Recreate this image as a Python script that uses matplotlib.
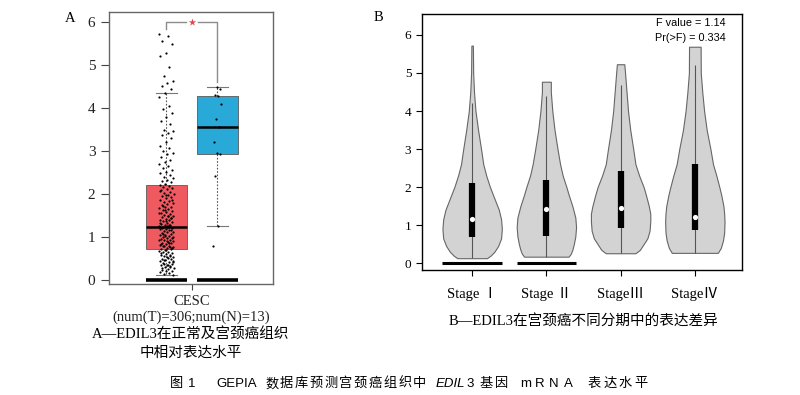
import numpy as np
import matplotlib
matplotlib.use("Agg")
import matplotlib.pyplot as plt

# ---- data ----
# panel A: box stats (tumor / normal) + points
groups = ["Tumor", "Normal"]
box_q1 = [0.72, 2.93]
box_med = [1.24, 3.57]
box_q3 = [2.20, 4.27]
whis_lo = [0.12, 1.26]
whis_hi = [4.35, 4.50]
box_colors = ["#EF5A60", "#28A9D7"]

tumor_pts = [
    5.72, 5.68, 5.55, 5.50, 5.27, 5.20, 4.95, 4.75, 4.63, 4.58, 4.52, 4.45,
    4.36, 4.25, 4.05, 3.98, 3.88, 3.80, 3.70, 3.62, 3.50, 3.47, 3.42, 3.37,
    3.30, 3.22, 3.12, 3.07, 3.01, 2.96, 2.92, 2.86, 2.80, 2.74, 2.70, 2.66,
    2.61, 2.57, 2.52, 2.48, 2.44, 2.40, 2.37, 2.33, 2.30, 2.27, 2.24, 2.22,
    2.19, 2.17, 2.14, 2.12, 2.09, 2.05, 2.03, 2.00, 1.97, 1.95, 1.92, 1.90,
    1.87, 1.84, 1.81, 1.79, 1.76, 1.74, 1.71, 1.69, 1.67, 1.65, 1.63, 1.61,
    1.58, 1.56, 1.54, 1.52, 1.50, 1.48, 1.46, 1.44, 1.42, 1.40, 1.39, 1.37,
    1.35, 1.33, 1.31, 1.29, 1.27, 1.26, 1.24, 1.23, 1.21, 1.19, 1.18, 1.16,
    1.14, 1.12, 1.11, 1.09, 1.07, 1.05, 1.04, 1.02, 1.00, 0.98, 0.97, 0.95,
    0.93, 0.92, 0.90, 0.88, 0.87, 0.85, 0.83, 0.82, 0.80, 0.78, 0.77, 0.75,
    0.73, 0.72, 0.70, 0.68, 0.66, 0.65, 0.63, 0.61, 0.59, 0.58, 0.56, 0.54,
    0.52, 0.50, 0.48, 0.46, 0.44, 0.42, 0.40, 0.38, 0.36, 0.34, 0.32, 0.30,
    0.28, 0.26, 0.24, 0.22, 0.20, 0.18, 0.16, 0.14, 0.12,
    1.25, 1.22, 1.17, 1.03, 0.94, 0.86, 0.79, 0.74, 0.69, 0.62, 0.55, 0.47,
    0.41, 0.35, 0.29, 1.45, 1.38, 1.32, 1.28, 1.08, 0.99, 0.91, 0.84, 0.76,
    1.62, 1.55, 1.49, 1.72, 1.85, 1.98, 2.07, 0.31, 0.37, 0.45, 0.53,
]
normal_pts = [0.80, 1.26, 2.43, 2.93, 2.95, 3.20, 3.57, 3.75, 4.10, 4.27, 4.30, 4.45, 4.50]

# panel B: violin outlines (value, half width) per stage + inner box stats
stages = ["Stage Ⅰ", "Stage Ⅱ", "StageⅢ", "StageⅣ"]
vio_y = [
    [0.13, 0.2, 0.3, 0.45, 0.65, 0.9, 1.15, 1.4, 1.7, 2.0, 2.3, 2.6, 3.0, 3.5, 4.0, 4.5, 5.0, 5.72],
    [0.17, 0.25, 0.35, 0.5, 0.7, 0.95, 1.2, 1.5, 1.8, 2.0, 2.3, 2.6, 3.0, 3.5, 4.0, 4.5, 4.77],
    [0.26, 0.35, 0.5, 0.65, 0.85, 1.1, 1.3, 1.5, 1.8, 2.0, 2.3, 2.6, 3.0, 3.5, 4.0, 4.5, 5.0, 5.23],
    [0.27, 0.4, 0.6, 0.8, 1.09, 1.3, 1.5, 1.8, 2.0, 2.3, 2.6, 3.0, 3.5, 4.0, 4.5, 5.0, 5.69],
]
vio_w = [
    [0.20, 0.25, 0.30, 0.35, 0.39, 0.40, 0.39, 0.36, 0.30, 0.24, 0.19, 0.15, 0.12, 0.08, 0.045, 0.025, 0.014, 0.01],
    [0.30, 0.33, 0.35, 0.37, 0.39, 0.40, 0.39, 0.35, 0.30, 0.27, 0.22, 0.185, 0.15, 0.11, 0.08, 0.06, 0.06],
    [0.20, 0.26, 0.31, 0.36, 0.39, 0.40, 0.40, 0.38, 0.34, 0.31, 0.25, 0.20, 0.17, 0.13, 0.10, 0.08, 0.06, 0.05],
    [0.31, 0.35, 0.38, 0.395, 0.40, 0.395, 0.385, 0.355, 0.33, 0.29, 0.245, 0.21, 0.16, 0.125, 0.10, 0.08, 0.078],
]
st_q1 = [0.70, 0.72, 0.92, 0.88]
st_med = [1.15, 1.42, 1.45, 1.22]
st_q3 = [2.10, 2.18, 2.42, 2.60]
st_lo = [0.13, 0.17, 0.26, 0.27]
st_hi = [4.22, 4.40, 4.68, 5.20]
has_zero_bar = [True, True, False, False]

SERIF = ["Liberation Serif", "Noto Sans CJK SC"]
SANS = ["Liberation Sans", "Noto Sans CJK SC"]
plt.rcParams["font.family"] = SERIF

fig = plt.figure(figsize=(8, 3.95), dpi=100)

# ================= panel A =================
axA = fig.add_axes([0.1366, 0.2802, 0.205, 0.690])
pos = [0.348, 0.659]
bw = 0.248
stats = []
for i in range(2):
    stats.append(dict(med=box_med[i], q1=box_q1[i], q3=box_q3[i],
                      whislo=whis_lo[i], whishi=whis_hi[i], fliers=[]))
bp = axA.bxp(stats, positions=pos, widths=bw, capwidths=bw / 2, patch_artist=True,
             showfliers=False, manage_ticks=False,
             boxprops=dict(edgecolor="#5a5a5a", linewidth=0.6),
             medianprops=dict(color="black", linewidth=1.8),
             whiskerprops=dict(color="#555555", linewidth=0.8, linestyle=(0, (1.5, 1.5))),
             capprops=dict(color="#777777", linewidth=0.8))
for patch, c in zip(bp["boxes"], box_colors):
    patch.set_facecolor(c)

# baseline bars at 0
for p in pos:
    axA.hlines(0, p - bw / 2, p + bw / 2, color="black", linewidth=2.6, zorder=3)

# jittered points
n_t = len(tumor_pts)
jit_t = ((np.arange(n_t) * 0.6180339887) % 1 - 0.5) * 0.09
axA.scatter(pos[0] + jit_t, tumor_pts, s=2.5, color="black", linewidths=0, zorder=4)
n_n = len(normal_pts)
jit_n = ((np.arange(n_n) * 0.6180339887) % 1 - 0.5) * 0.05
axA.scatter(pos[1] + jit_n, normal_pts, s=2.5, color="black", linewidths=0, zorder=4)

# significance bracket
mid = (pos[0] + pos[1]) / 2
gap = 0.035
br_col = "#8c8c8c"
axA.plot([pos[0], pos[0], mid - gap], [5.85, 6.0, 6.0], color=br_col, lw=1)
axA.plot([mid + gap, pos[1], pos[1]], [6.0, 6.0, 4.6], color=br_col, lw=1)
axA.scatter([mid], [6.0], marker="*", s=32, color="#E8474F", linewidths=0, zorder=5)

axA.set_xlim(0, 1)
axA.set_ylim(-0.1, 6.24)
axA.set_yticks(range(7))
axA.set_xticks([0.502])
axA.set_xticklabels(["CESC\n(num(T)=306;num(N)=13)"], fontsize=10.5, linespacing=1.25)
axA.tick_params(axis="y", length=6, width=0.8, pad=4, labelsize=11, colors="#444444",
                labelcolor="#222222")
axA.tick_params(axis="x", length=4, width=0.8, pad=4, colors="#444444", labelcolor="#222222")
for sp in axA.spines.values():
    sp.set_color("#666666")
    sp.set_linewidth(1)

# ================= panel B =================
axB = fig.add_axes([0.528, 0.3165, 0.399, 0.648])
for i in range(4):
    x = i + 1
    yy = np.array(vio_y[i])
    ww = np.array(vio_w[i])
    axB.fill_betweenx(yy, x - ww, x + ww, facecolor="#D3D3D3", edgecolor="#666666",
                      linewidth=0.8, zorder=2)
    axB.vlines(x, st_lo[i], st_hi[i], color="#555555", linewidth=0.8, zorder=3)
    axB.vlines(x, st_q1[i], st_q3[i], color="black", linewidth=4.5, zorder=4)
    axB.scatter([x], [st_med[i]], s=14, color="white", linewidths=0, zorder=5)
    if has_zero_bar[i]:
        axB.hlines(0, x - 0.4, x + 0.4, color="black", linewidth=2.2, zorder=3)

axB.text(0.95, 0.965, "F value = 1.14", transform=axB.transAxes, ha="right", va="center",
         family=SANS, fontsize=7.8)
axB.text(0.95, 0.906, "Pr(>F) = 0.334", transform=axB.transAxes, ha="right", va="center",
         family=SANS, fontsize=7.8)

axB.set_xlim(0.33, 4.63)
axB.set_ylim(-0.18, 6.55)
axB.set_yticks(range(7))
axB.set_xticks(range(1, 5))
axB.set_xticklabels(stages, fontsize=10.5)
axB.tick_params(axis="y", length=4, width=0.8, pad=4, labelsize=9.5)
axB.tick_params(axis="x", length=4, width=0.8, pad=8)
for sp in axB.spines.values():
    sp.set_color("black")
    sp.set_linewidth(1)

# ================= text =================
W, H = 800.0, 395.0


def ftext(x, y, s, **kw):
    return fig.text(x / W, 1 - y / H, s, **kw)


ftext(70, 18.5, "A", ha="center", va="center", fontsize=10.5, family=SERIF)
ftext(378, 17.5, "B", ha="center", va="center", fontsize=10.5, family=SERIF)
ftext(191, 335, "A—EDIL3在正常及宫颈癌组织", ha="center", va="center", fontsize=10.5, family=SERIF)
ftext(191, 353, "中相对表达水平", ha="center", va="center", fontsize=10.5, family=SERIF)
ftext(583, 322, "B—EDIL3在宫颈癌不同分期中的表达差异", ha="center", va="center",
      fontsize=10.5, family=SERIF)

# bottom caption, letters spaced out as in the journal layout
cap_y = 384
cap_parts = [
    # text, left x (px) or None = right after previous part, per-char pitch, italic
    ("图", 170, None, False), ("1", 188, None, False), ("GEPIA", 216, None, False),
    ("数据库预测宫颈癌组织中", 265, 14.8, False), ("EDIL", 436, None, True),
    ("3", None, None, False), ("基因", 480, 15.3, False), ("mRNA", 520, 14.5, False),
    ("表达水平", 588, 15.3, False),
]
renderer = fig.canvas.get_renderer()
last_right = 0
for s, x0, step, ital in cap_parts:
    if x0 is None:
        x0 = last_right + 1
    chars = [s] if step is None else list(s)
    for k, ch in enumerate(chars):
        t = ftext(x0 + k * (step or 0), cap_y, ch, ha="left", va="center", fontsize=9.5,
                  family=SANS, weight="medium", style="italic" if ital else "normal")
        last_right = t.get_window_extent(renderer).x1

fig.savefig("out.png", dpi=100)
